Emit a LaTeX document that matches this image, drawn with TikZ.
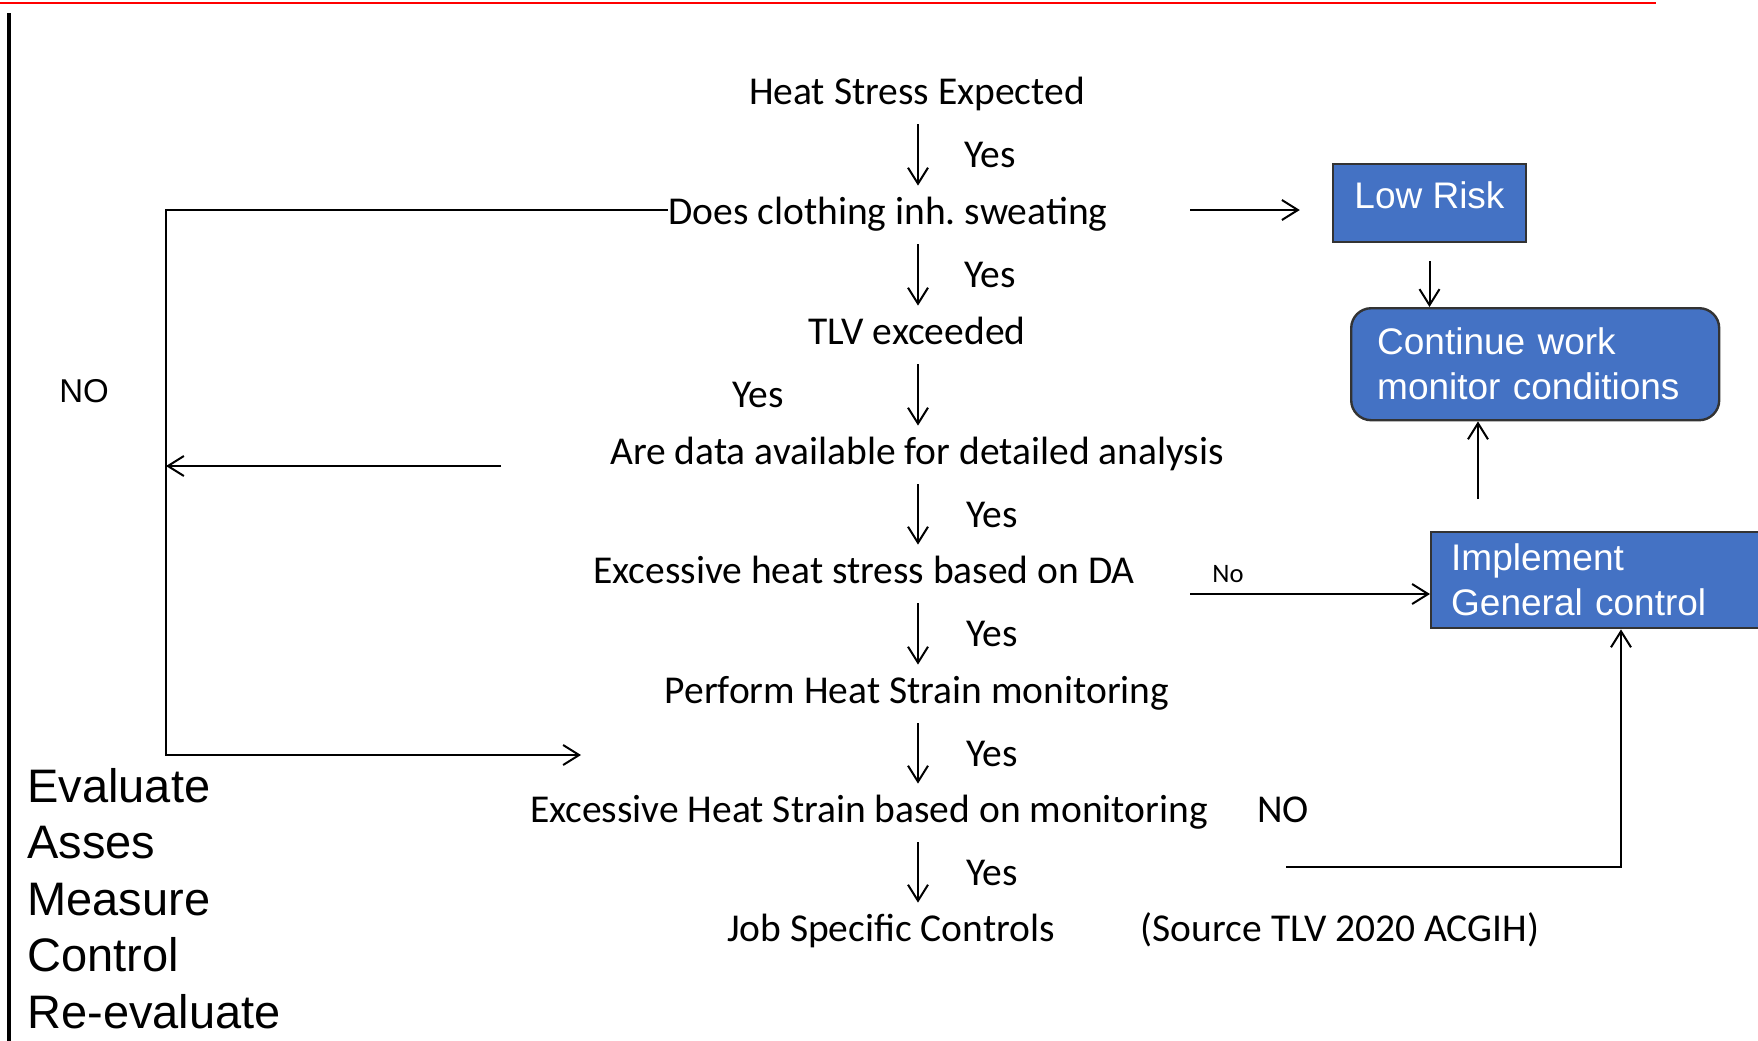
\documentclass[tikz,border=0pt]{standalone}
\usepackage{fontspec}
\setmainfont{Carlito}
\newfontfamily\arialfont{Liberation Sans}
\usetikzlibrary{arrows.meta,positioning,calc}
\definecolor{boxblue}{HTML}{4472C4}
\tikzset{
  >={Straight Barb[length=8pt,width=10pt]},
  flow/.style={font=\fontsize{19.75}{24}\selectfont,inner sep=0pt,text height=14pt,text depth=5pt,anchor=base},
  yes/.style={font=\fontsize{19.75}{24}\selectfont,inner sep=0pt},
  bbox/.style={draw=black!80,fill=boxblue,line width=1.2pt,text=white,font=\arialfont\fontsize{18.5}{22.5}\selectfont},
  arr/.style={->,line width=1pt},
  side/.style={font=\arialfont\fontsize{23.5}{28}\selectfont,inner sep=0pt,anchor=base west},
}
\begin{document}
\begin{tikzpicture}[x=0.5pt,y=-0.5pt]
\useasboundingbox (0,0) rectangle (1758,1040);
\clip (0,0) rectangle (1758,1040);
% frame lines
\draw[red,line width=1pt] (0,2.5) -- (1656,2.5);
\draw[line width=2pt] (9,13) -- (9,1045);

% main column
\coordinate (col) at (918,0);
\node[flow] (heat)  at (917,104) {Heat Stress Expected};
\node[flow] (does)  at (888,224) {Does clothing inh.\ sweating};
\node[flow] (tlv)   at (917,344) {TLV exceeded};
\node[flow] (data)  at (917,464) {Are data available for detailed analysis};
\node[flow] (exda)  at (864,583) {Excessive heat stress based on DA};
\node[flow] (hsm)   at (917,703) {Perform Heat Strain monitoring};
\node[flow] (exmon) at (869,822) {Excessive Heat Strain based on monitoring};
\node[flow] (job)   at (891,941) {Job Specific Controls};
\node[flow] (src)   at (1340,941) {(Source TLV 2020 ACGIH)};

\foreach \a/\b/\dx in {heat/does/36,does/tlv/36,tlv/data/-80,data/exda/37,exda/hsm/37,hsm/exmon/37,exmon/job/37}
  \draw[arr,shorten <=5pt,shorten >=5pt] (\a.south -| col) -- node[yes,pos=0.5,xshift=\dx pt] (yes\a) {Yes} (\b.north -| col);

% NO loop on the left
\coordinate (nb) at (166,755);
\coordinate (nin) at (581,755);
\draw[arr] ([yshift=2.5pt]does.west) -| (nb) -- (nin);
\coordinate (dl) at (501,466);
\draw[arr] (dl) -- (dl -| nb);
\node[font=\arialfont\fontsize{16.5}{20}\selectfont,inner sep=0pt] (noL) at (84,391) {NO};

% result boxes
\node[bbox,minimum width=96.5pt,minimum height=39pt,text depth=8pt] (low) at (1429.5,203) {Low Risk};
\node[bbox,anchor=north west,rounded corners=10pt,minimum height=56pt,text width=158pt,inner xsep=13pt,align=left] (cont) at (1350,307) {Continue work\\monitor conditions};
\node[bbox,anchor=north west,minimum height=48pt,text width=150pt,inner xsep=10pt,align=left] (impl) at (1430,531) {Implement\\General control};

\coordinate (lrin) at (1190,210);
\draw[arr,shorten >=16pt] (lrin) -- (lrin -| low.west);
\draw[arr,shorten <=9pt] (low.south) -- (low.south |- cont.north);
\coordinate (ic) at (1478,499);
\draw[arr] (ic) -- (ic |- cont.south);
\coordinate (dno) at (1190,594);
\draw[arr] (dno) -- (dno -| impl.west);
\node[font=\fontsize{13.3}{16}\selectfont,inner sep=0pt] (nosm) at (1228,574) {No};
\node[flow] (nomon) at (1283,822) {NO};
\coordinate (mno) at (1286,867);
\coordinate (mnc) at (1621,867);
\draw[arr] (mno) -- (mnc) -- (mnc |- impl.south);

% left list
\foreach \w [count=\i] in {Evaluate,Asses,Measure,Control,Re-evaluate}
  \node[side] (ev\i) at (27,{802+56.5*(\i-1)}) {\w};
\end{tikzpicture}
\end{document}
